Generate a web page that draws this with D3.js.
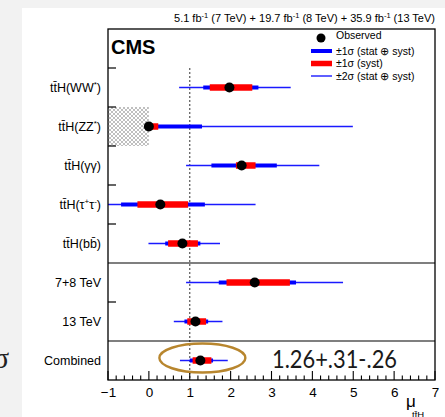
<!DOCTYPE html>
<html>
<head>
<meta charset="utf-8">
<script src="https://cdn.jsdelivr.net/npm/d3@7"></script>
<style>
  html, body { margin: 0; padding: 0; background: #f2f2f2; }
  svg { display: block; }
  text { font-family: "Liberation Sans", Arial, Helvetica, sans-serif; fill: #000; }
</style>
</head>
<body>
<svg id="chart" width="445" height="417"></svg>
<script>
// Channels of the ttH signal-strength measurement, top to bottom
const categories = ["ttH(WW*)", "ttH(ZZ*)", "ttH(γγ)", "ttH(ττ)", "ttH(bb)", "7+8 TeV", "13 TeV", "Combined"];
const mu        = [1.97, 0.00, 2.27, 0.28, 0.82, 2.59, 1.14, 1.26];
// ±1σ total (stat ⊕ syst)
const totUp     = [0.71, 1.30, 0.86, 1.09, 0.44, 1.01, 0.31, 0.31];
const totDown   = [0.64, 0.00, 0.74, 0.96, 0.42, 0.88, 0.27, 0.26];
// ±1σ systematic only
const systUp    = [0.56, 0.23, 0.34, 0.68, 0.38, 0.86, 0.26, 0.27];
const systDown  = [0.48, 0.00, 0.14, 0.56, 0.35, 0.69, 0.20, 0.19];
// ±2σ total (stat ⊕ syst)
const tot2Up    = [1.50, 4.99, 1.90, 2.33, 0.92, 2.16, 0.66, 0.67];
const tot2Down  = [1.23, 0.00, 1.36, 1.60, 0.83, 1.68, 0.53, 0.50];
const xTicks    = [-1, 0, 1, 2, 3, 4, 5, 6, 7];
const resultText = "1.26+.31-.26";

const svg = d3.select("#chart");

// white canvas area
svg.append("rect").attr("x", 22).attr("y", 8).attr("width", 423).attr("height", 409).attr("fill", "#fff");

// stray sigma glyph on the margin
svg.append("text").attr("x", -7).attr("y", 368)
  .style("font-family", "'Liberation Serif', 'DejaVu Serif', serif")
  .style("font-size", "30px").style("fill", "#222").text("σ");

const pLeft = 108, pRight = 435, pTop = 29, pBottom = 380;
const x = d3.scaleLinear().domain([-1, 7]).range([pLeft, pRight]);
// 9 slots: the first holds the legend, the rest one channel each
const y = d3.scaleLinear().domain([0, 9]).range([pTop, pBottom]);
const rowY = i => y(i + 1.5);

const defs = svg.append("defs");
defs.append("clipPath").attr("id", "plotclip")
  .append("rect").attr("x", pLeft).attr("y", pTop).attr("width", pRight - pLeft).attr("height", pBottom - pTop);

const hatch = defs.append("pattern").attr("id", "hatch").attr("patternUnits", "userSpaceOnUse")
  .attr("width", 4).attr("height", 4);
hatch.append("rect").attr("width", 4).attr("height", 4).attr("fill", "#fff");
hatch.append("path").attr("d", "M0,0L4,4M4,0L0,4").attr("stroke", "#b8b8b8").attr("stroke-width", 0.9);

// excluded region for the ZZ* channel (mu < 0)
svg.append("rect")
  .attr("x", x(-1)).attr("y", y(2)).attr("width", x(0) - x(-1)).attr("height", y(3) - y(2))
  .attr("fill", "url(#hatch)");

// SM reference line at mu = 1
svg.append("line")
  .attr("x1", x(1)).attr("x2", x(1)).attr("y1", y(1)).attr("y2", pBottom)
  .attr("stroke", "#555").attr("stroke-width", 1.2).attr("stroke-dasharray", "2,2");

// full-width separators between channel groups
[6, 8].forEach(b => {
  svg.append("line").attr("x1", pLeft).attr("x2", pRight).attr("y1", y(b)).attr("y2", y(b))
    .attr("stroke", "#000").attr("stroke-width", 1.2);
});
// short ticks on the left edge between rows
[1, 2, 3, 4, 5, 7].forEach(b => {
  svg.append("line").attr("x1", pLeft).attr("x2", pLeft + 8).attr("y1", y(b)).attr("y2", y(b))
    .attr("stroke", "#000").attr("stroke-width", 1.2);
});

const marks = svg.append("g").attr("clip-path", "url(#plotclip)");
const rows = d3.range(categories.length);

marks.selectAll("line.two").data(rows).join("line").attr("class", "two")
  .attr("x1", i => x(mu[i] - tot2Down[i])).attr("x2", i => x(mu[i] + tot2Up[i]))
  .attr("y1", rowY).attr("y2", rowY)
  .attr("stroke", "#1a1aff").attr("stroke-width", 1.4);
marks.selectAll("line.one").data(rows).join("line").attr("class", "one")
  .attr("x1", i => x(mu[i] - totDown[i])).attr("x2", i => x(mu[i] + totUp[i]))
  .attr("y1", rowY).attr("y2", rowY)
  .attr("stroke", "#0000ff").attr("stroke-width", 4);
marks.selectAll("line.syst").data(rows).join("line").attr("class", "syst")
  .attr("x1", i => x(mu[i] - systDown[i])).attr("x2", i => x(mu[i] + systUp[i]))
  .attr("y1", rowY).attr("y2", rowY)
  .attr("stroke", "#ff0000").attr("stroke-width", 6.5);
svg.selectAll("circle.obs").data(rows).join("circle").attr("class", "obs")
  .attr("cx", i => x(mu[i])).attr("cy", rowY).attr("r", 5).attr("fill", "#000");

// frame
svg.append("rect").attr("x", pLeft).attr("y", pTop).attr("width", pRight - pLeft).attr("height", pBottom - pTop)
  .attr("fill", "none").attr("stroke", "#000").attr("stroke-width", 1.3);

// x axis with minor ticks
const minor = d3.range(-1, 7.001, 0.2);
svg.selectAll("line.minor").data(minor).join("line").attr("class", "minor")
  .attr("x1", d => x(d)).attr("x2", d => x(d))
  .attr("y1", pBottom).attr("y2", d => Math.abs(d - Math.round(d)) < 1e-6 ? pBottom - 9 : pBottom - 4.5)
  .attr("stroke", "#000").attr("stroke-width", 1.1);
const xAxis = d3.axisBottom(x).tickValues(xTicks).tickSize(0).tickPadding(7)
  .tickFormat(d => d < 0 ? "\u2212" + Math.abs(d) : String(d));
const gx = svg.append("g").attr("transform", `translate(0,${pBottom})`).call(xAxis);
gx.select(".domain").remove();
gx.selectAll("text").style("font-size", "13.5px").style("font-family", "'Liberation Sans', Arial, sans-serif").attr("fill", "#000");

// axis title: mu_{ttH}
svg.append("text").attr("x", 406).attr("y", 407).style("font-size", "17px").text("μ");
svg.append("text").attr("x", 412).attr("y", 418).style("font-size", "9.5px").text("tt\u0304H");

// row labels, with superscripts where needed
const labelParts = [
  [["tt\u0304H(WW", 0], ["*", 1], [")", 0]],
  [["tt\u0304H(ZZ", 0], ["*", 1], [")", 0]],
  [["tt\u0304H(γγ)", 0]],
  [["tt\u0304H(τ", 0], ["+", 1], ["τ", 0], ["-", 1], [")", 0]],
  [["tt\u0304H(bb\u0304)", 0]],
  [[categories[5], 0]],
  [[categories[6], 0]],
  [[categories[7], 0]]
];
rows.forEach(i => {
  const t = svg.append("text").attr("x", 101).attr("y", rowY(i) + 4.5)
    .attr("text-anchor", "end").style("font-size", "12.5px");
  let prevSup = false;
  labelParts[i].forEach(([s, sup]) => {
    const ts = t.append("tspan").text(s);
    if (sup) ts.style("font-size", "8px");
    ts.attr("dy", sup ? (prevSup ? 0 : -5) : (prevSup ? 5 : 0));
    prevSup = !!sup;
  });
});

// header
const hdr = svg.append("text").attr("x", 435).attr("y", 22).attr("text-anchor", "end").style("font-size", "11px");
let hPrevSup = false;
[["5.1 fb", 0], ["-1", 1], [" (7 TeV) + 19.7 fb", 0], ["-1", 1], [" (8 TeV) + 35.9 fb", 0], ["-1", 1], [" (13 TeV)", 0]]
  .forEach(([s, sup]) => {
    hdr.append("tspan").text(s).style("font-size", sup ? "7.5px" : "11px")
      .attr("dy", sup ? -4 : (hPrevSup ? 4 : 0));
    hPrevSup = !!sup;
  });

// CMS
svg.append("text").attr("x", 111).attr("y", 54).style("font-size", "20px").style("font-weight", "bold").text("CMS");

// legend
const lg = svg.append("g");
const lx1 = 311, lx2 = 332, tx = 336;
lg.append("circle").attr("cx", 321).attr("cy", 38).attr("r", 4.5).attr("fill", "#000");
lg.append("text").attr("x", tx).attr("y", 39).style("font-size", "10.5px").text("Observed");
const legendRows = [
  { y: 51, color: "#0000ff", w: 4, label: "±1σ (stat ⊕ syst)" },
  { y: 63.5, color: "#ff0000", w: 5.5, label: "±1σ (syst)" },
  { y: 76, color: "#1a1aff", w: 1.4, label: "±2σ (stat ⊕ syst)" }
];
legendRows.forEach(r => {
  lg.append("line").attr("x1", lx1).attr("x2", lx2).attr("y1", r.y).attr("y2", r.y)
    .attr("stroke", r.color).attr("stroke-width", r.w);
  lg.append("text").attr("x", tx).attr("y", r.y + 3.5).style("font-size", "10.5px").text(r.label);
});

// highlight of the combined result
svg.append("ellipse").attr("cx", x(mu[7]) + 2).attr("cy", 358).attr("rx", 43).attr("ry", 14.5)
  .attr("fill", "none").attr("stroke", "#b8862e").attr("stroke-width", 2.4);
svg.append("text").attr("x", 272).attr("y", 368)
  .style("font-family", "Lato, 'Open Sans', sans-serif").style("font-size", "25px").style("fill", "#1a1a1a")
  .attr("textLength", 125).attr("lengthAdjust", "spacingAndGlyphs")
  .text(resultText);
</script>
</body>
</html>
